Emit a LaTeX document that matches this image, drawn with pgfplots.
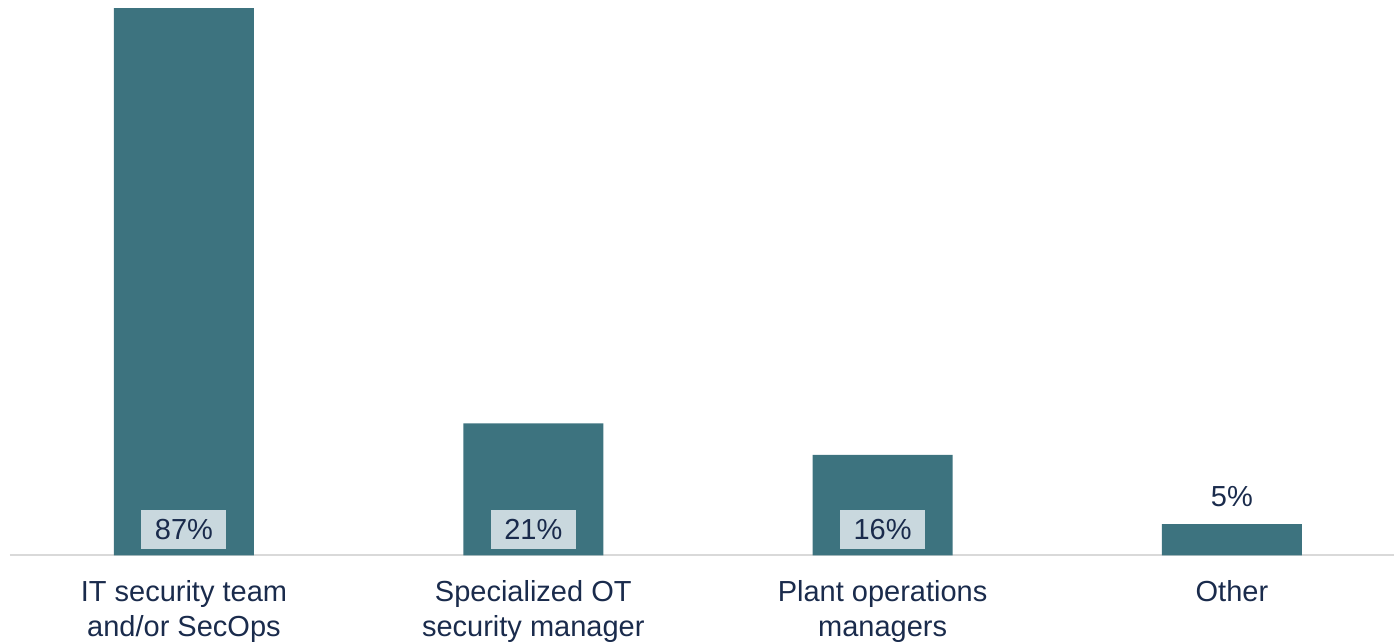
\documentclass[border=0pt]{standalone}
\usepackage{pgfplots}
\pgfplotsset{compat=1.18}
\usepackage{fontspec}
\setmainfont{Liberation Sans}
\definecolor{barc}{HTML}{3D737F}
\definecolor{boxc}{HTML}{C9D8DE}
\definecolor{txt}{HTML}{1A2B4C}
\definecolor{axc}{HTML}{D9D9D9}
\begin{document}
\begin{tikzpicture}
\useasboundingbox (-5pt,-43.25pt) rectangle (692pt,277.75pt);
\begin{axis}[
  at={(0,0)}, anchor=south west,
  scale only axis, width=692pt, height=277.75pt,
  xmin=-0.498, xmax=3.464, ymin=0, ymax=88.3,
  axis x line*=bottom, axis y line=none,
  x axis line style={draw=axc, line width=1pt, -},
  xtick={0,1,2,3}, xticklabels={{IT security team\\and/or SecOps},{Specialized OT\\security manager},{Plant operations\\managers},{Other}},
  xtick style={draw=none},
  ytick=\empty,
  xticklabel style={font=\fontsize{14.5}{17.5}\selectfont, text=txt, align=center, anchor=north, yshift=-9pt},
  clip=false,
]
\addplot[ybar, bar width=70pt, fill=barc, draw=none] coordinates {(0,87) (1,21) (2,16) (3,5)};
\begin{scope}[every node/.style={font=\fontsize{14.5}{17.5}\selectfont, text=txt}]
\node[fill=boxc, minimum width=42.5pt, minimum height=19.5pt, inner sep=0pt, anchor=south] at ([yshift=3pt]axis cs:0,0) {87\%};
\node[fill=boxc, minimum width=42.5pt, minimum height=19.5pt, inner sep=0pt, anchor=south] at ([yshift=3pt]axis cs:1,0) {21\%};
\node[fill=boxc, minimum width=42.5pt, minimum height=19.5pt, inner sep=0pt, anchor=south] at ([yshift=3pt]axis cs:2,0) {16\%};
\node[inner sep=0pt, anchor=south] at ([yshift=8.5pt]axis cs:3,5) {5\%};
\end{scope}
\end{axis}
\end{tikzpicture}
\end{document}
